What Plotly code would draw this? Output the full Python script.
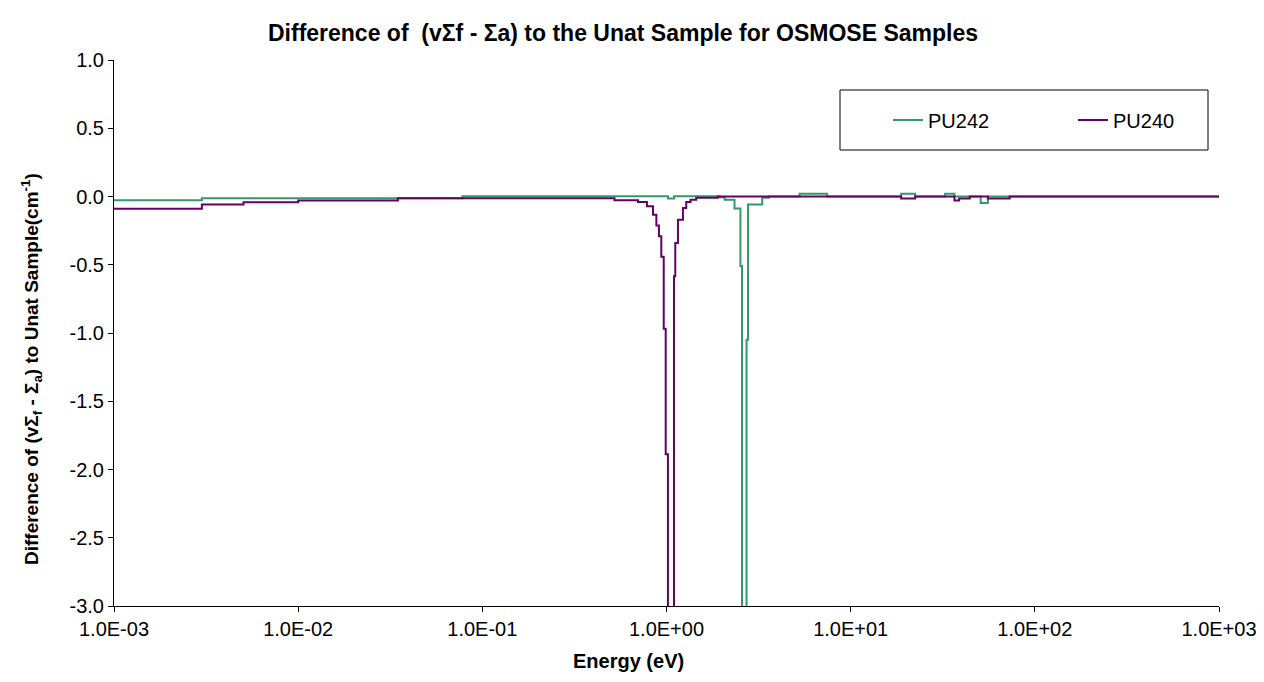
import plotly.graph_objects as go

# Energy group boundaries (eV) and values (cm^-1), step data
pu242_energy = [0.001, 0.003, 0.078, 1.02, 1.10, 1.94, 2.07, 2.34, 2.52, 2.57, 2.72, 2.77, 3.31, 3.6,
                5.28, 7.43, 18.8, 22.4, 32.6, 36.6, 50.8, 55.6, 1000]
pu242_value = [-0.027, -0.012, 0.002, -0.015, 0.002, -0.005, -0.023, -0.088, -0.51, -6.0, -1.05, -0.059, -0.01, 0.0,
               0.021, 0.0, 0.02, 0.0, 0.02, 0.0, -0.047, 0.0, 0.0]

pu240_energy = [0.001, 0.003, 0.00505, 0.01, 0.0348, 0.522, 0.70, 0.783, 0.845, 0.881, 0.91, 0.937, 0.966,
                0.99, 1.018, 1.098, 1.116, 1.154, 1.228, 1.28, 1.35, 1.45, 1.90, 18.8, 22.4, 36.6, 38.8,
                44.3, 55.6, 73.0, 1000]
pu240_value = [-0.089, -0.059, -0.042, -0.030, -0.013, -0.027, -0.040, -0.071, -0.133, -0.213, -0.291, -0.442,
               -0.969, -1.889, -6.0, -0.584, -0.34, -0.17, -0.084, -0.040, -0.023, -0.010, 0.0, -0.015, 0.0,
               -0.030, -0.015, 0.0, -0.015, 0.0, 0.0]

x_tick_values = [0.001, 0.01, 0.1, 1, 10, 100, 1000]
x_tick_labels = ["1.0E-03", "1.0E-02", "1.0E-01", "1.0E+00", "1.0E+01", "1.0E+02", "1.0E+03"]
y_tick_values = [1.0, 0.5, 0.0, -0.5, -1.0, -1.5, -2.0, -2.5, -3.0]
y_tick_labels = ["1.0", "0.5", "0.0", "-0.5", "-1.0", "-1.5", "-2.0", "-2.5", "-3.0"]

FONT = "Liberation Sans, Arial, sans-serif"

fig = go.Figure()
fig.add_trace(go.Scatter(x=pu242_energy, y=pu242_value, mode="lines", name="PU242",
                         line=dict(color="#339966", width=2, shape="hv")))
fig.add_trace(go.Scatter(x=pu240_energy, y=pu240_value, mode="lines", name="PU240",
                         line=dict(color="#660066", width=2, shape="hv")))

W, H = 1264, 682
L, R, T, B = 106, 1211, 52, 598

def px_x(p):
    return (p - L) / (R - L)

def px_y(p):
    return (B - p) / (B - T)

fig.update_layout(
    width=W, height=H,
    margin=dict(l=L, r=W - R, t=T, b=H - B),
    paper_bgcolor="white", plot_bgcolor="white",
    font=dict(family=FONT, size=20, color="black"),
    title=dict(text="<b>Difference of  (vΣf - Σa) to the Unat Sample for OSMOSE Samples</b>",
               font=dict(size=23, family=FONT, color="black"),
               x=px_x(615), xref="paper", xanchor="center",
               y=1 - 25 / H, yref="container", yanchor="middle"),
    showlegend=True,
    legend=dict(orientation="h", x=px_x(880), y=px_y(112), xanchor="left", yanchor="middle",
                bgcolor="rgba(0,0,0,0)", borderwidth=0, entrywidth=140,
                font=dict(size=20, family=FONT)),
    shapes=[dict(type="rect", xref="paper", yref="paper",
                 x0=px_x(832), x1=px_x(1200), y0=px_y(142), y1=px_y(82),
                 line=dict(color="black", width=1), fillcolor="white", layer="below")],
    annotations=[
        dict(text="<b>Difference of (vΣ<sub>f</sub> - Σ<sub>a</sub>) to Unat Sample(cm<sup>-1</sup>)</b>",
             textangle=-90, xref="paper", yref="paper", x=px_x(23), y=px_y(361),
             xanchor="center", yanchor="middle", showarrow=False,
             font=dict(size=19, family=FONT, color="black")),
        dict(text="<b>Energy (eV)</b>", xref="paper", yref="paper", x=px_x(620), y=px_y(653),
             xanchor="center", yanchor="middle", showarrow=False,
             font=dict(size=20, family=FONT, color="black")),
    ],
)

fig.update_xaxes(type="log", range=[-3, 3], tickvals=x_tick_values, ticktext=x_tick_labels,
                 showline=True, linecolor="black", linewidth=1, ticks="outside", ticklen=5,
                 tickcolor="black", showgrid=False, zeroline=False, mirror=False,
                 tickfont=dict(size=20, family=FONT))
fig.update_yaxes(range=[-3, 1], tickvals=y_tick_values, ticktext=y_tick_labels,
                 showline=True, linecolor="black", linewidth=1, ticks="outside", ticklen=5,
                 tickcolor="black", showgrid=False, zeroline=False,
                 tickfont=dict(size=20, family=FONT))

fig.write_html("out.html")
